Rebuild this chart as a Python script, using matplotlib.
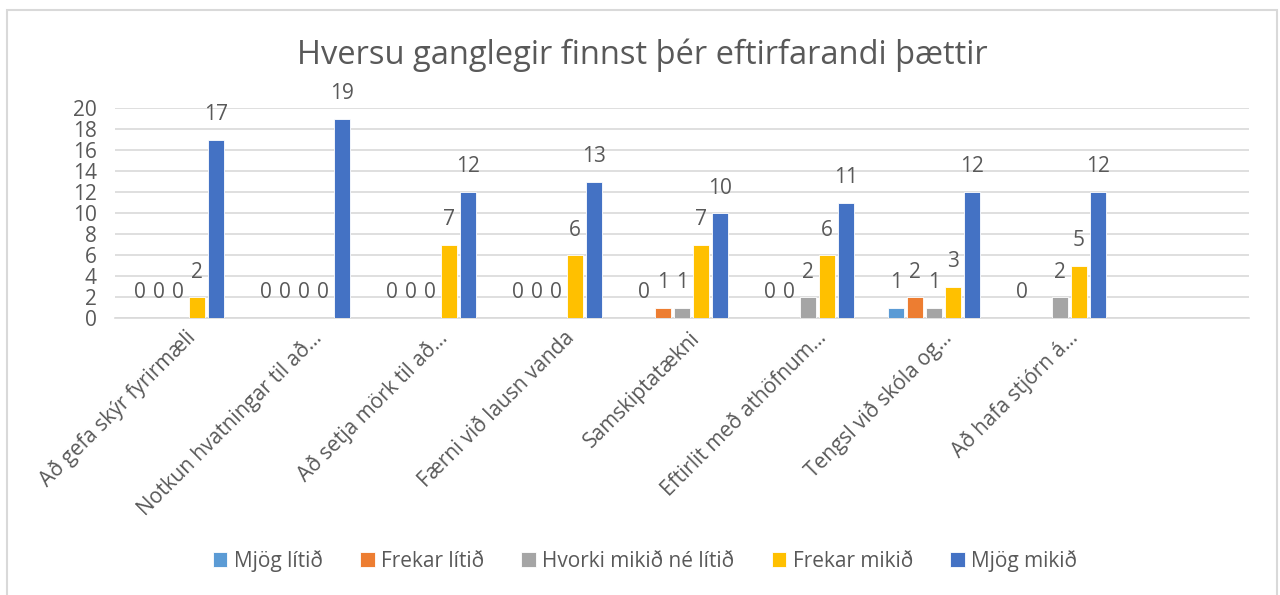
import matplotlib
import matplotlib.pyplot as plt
import matplotlib.transforms as mtransforms
from matplotlib.patches import Rectangle
import numpy as np

plt.switch_backend('agg')

#%% =====================================
#   Data
#   =====================================
categories = ['Að gefa skýr fyrirmæli', 'Notkun hvatningar til að…',
              'Að setja mörk til að…', 'Færni við lausn vanda',
              'Samskiptatækni', 'Eftirlit með athöfnum…',
              'Tengsl við skóla og…', 'Að hafa stjórn á…', '']

series_names = ['Mjög lítið', 'Frekar lítið', 'Hvorki mikið né lítið',
                'Frekar mikið', 'Mjög mikið']

mjog_litid   = [0, 0, 0, 0, 0, 0, 1, 0, np.nan]
frekar_litid = [0, 0, 0, 0, 1, 0, 2, np.nan, np.nan]
hvorki       = [0, 0, 0, 0, 1, 2, 1, 2, np.nan]
frekar_mikid = [2, 0, 7, 6, 7, 6, 3, 5, np.nan]
mjog_mikid   = [17, 19, 12, 13, 10, 11, 12, 12, np.nan]

colors = ['#5B9BD5', '#ED7D31', '#A5A5A5', '#FFC000', '#4472C4']

TITLE = 'Hversu ganglegir finnst þér eftirfarandi þættir'

#%% =====================================
#   Plotting
#   =====================================
plt.rcParams['font.family'] = ['Open Sans', 'DejaVu Sans']
txt_col = '#595959'
grid_col = '#D9D9D9'
FS = 15

fig = plt.figure(figsize=(12.8, 5.95), dpi=100)
ax = fig.add_axes([115/1280, 1 - 318/595, 1134/1280, 210/595])

all_series = [mjog_litid, frekar_litid, hvorki, frekar_mikid, mjog_mikid]
x = np.arange(len(categories))
step = 0.151
width = 0.123

for ii, (vals, name, col) in enumerate(zip(all_series, series_names, colors)):
    vals = np.array(vals, dtype=float)
    xpos = x + (ii - 2) * step
    ax.bar(xpos, vals, width=width, color=col, edgecolor='white',
           linewidth=0.6, label=name, zorder=3)
    for xp, v in zip(xpos, vals):
        if np.isnan(v):
            continue
        ax.annotate('%d' % v, (xp, v), xytext=(0, 18), textcoords='offset points',
                    ha='center', va='center', fontsize=FS, color=txt_col)

ax.set_xlim(-0.5, len(categories) - 0.5)
ax.set_ylim(0, 20)
ax.set_yticks(np.arange(0, 21, 2))
ax.yaxis.grid(True, color=grid_col, linewidth=1.2, zorder=0)
ax.set_axisbelow(True)

for sp in ['top', 'right', 'left']:
    ax.spines[sp].set_visible(False)
ax.spines['bottom'].set_color(grid_col)
ax.spines['bottom'].set_linewidth(1.2)

ax.tick_params(axis='y', length=0, pad=13, labelsize=FS, labelcolor=txt_col)
ax.tick_params(axis='x', length=0, pad=15, labelsize=FS, labelcolor=txt_col)
ax.set_xticks(x)
ax.set_xticklabels(categories, rotation=45, ha='right', va='baseline',
                   rotation_mode='anchor')
offset = mtransforms.ScaledTranslation(19/100, 0, fig.dpi_scale_trans)
for lab in ax.get_xticklabels():
    lab.set_transform(lab.get_transform() + offset)

# Title
fig.text(642/1280, 1 - 55/595, TITLE, ha='center', va='center',
         fontsize=23.5, color=txt_col)

# Legend
leg = fig.legend(loc='center', bbox_to_anchor=(645/1280, 1 - 561/595), ncol=5,
                 frameon=False, fontsize=FS, handlelength=0.7, handleheight=0.7,
                 handletextpad=0.3, columnspacing=1.8)
for t in leg.get_texts():
    t.set_color(txt_col)

# Chart border
fig.patches.append(Rectangle((7/1280, -0.05), 1270/1280, 1 - 10/595 + 0.05,
                             transform=fig.transFigure, fill=False,
                             edgecolor=grid_col, linewidth=1.5))

plt.savefig('out.png', dpi=100)
